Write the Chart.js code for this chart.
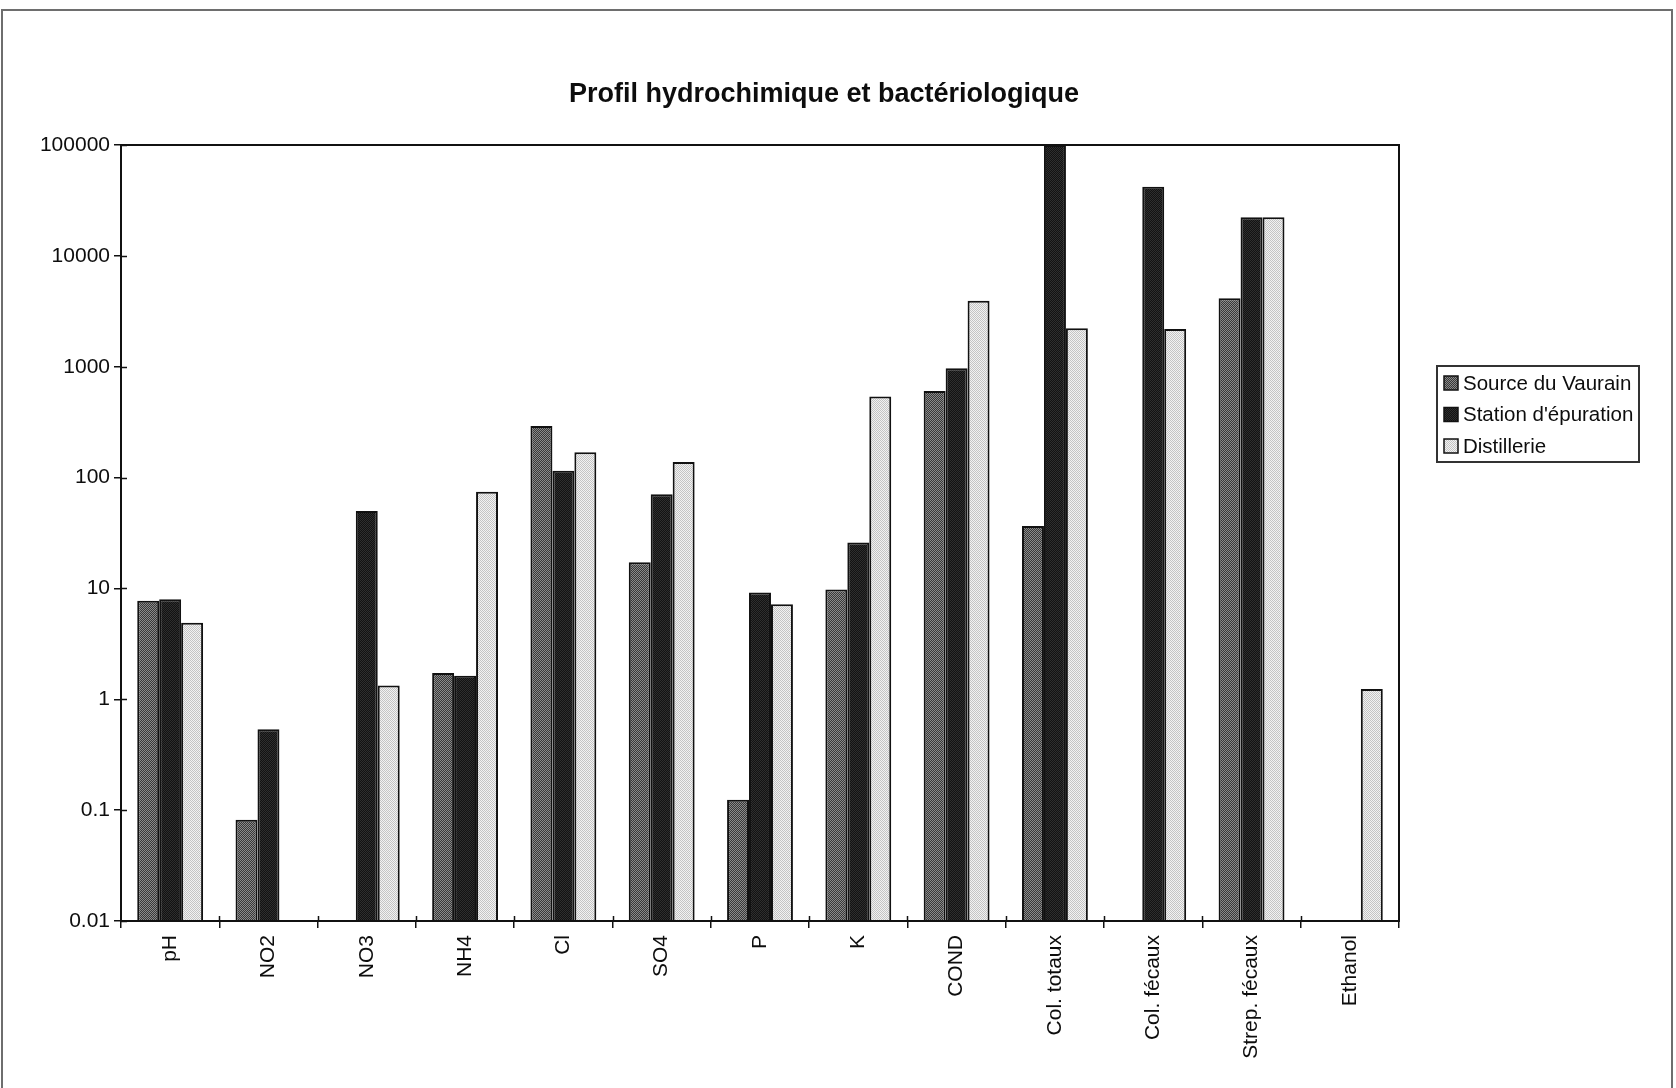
<!DOCTYPE html>
<html>
<head>
<meta charset="utf-8">
<title>Profil hydrochimique et bactériologique</title>
<script src="https://cdn.jsdelivr.net/npm/chart.js@4.4.1/dist/chart.umd.min.js"></script>
<style>
  html, body { margin: 0; padding: 0; background: #fff; }
  #wrap { width: 1676px; height: 1088px; }
  canvas { display: block; }
</style>
</head>
<body>
<div id="wrap"><canvas id="chart" width="1676" height="1088"></canvas></div>
<script>
// Parameters measured at the three sampling sites (log scale)
const categories = ['pH', 'NO2', 'NO3', 'NH4', 'Cl', 'SO4', 'P', 'K', 'COND',
                    'Col. totaux', 'Col. fécaux', 'Strep. fécaux', 'Ethanol'];
const seriesNames = ['Source du Vaurain', "Station d'épuration", 'Distillerie'];
const sourceVaurain    = [7.75, 0.082, null, 1.73, 292, 17.2, 0.124, 9.8, 604, 36.6, null, 4140, null];
const stationEpuration = [7.98, 0.536, 50, 1.63, 115, 70.7, 9.2, 25.9, 968, 100000, 42100, 22300, null];
const distillerie      = [4.9, null, 1.33, 74.6, 169, 138, 7.2, 538, 3940, 2220, 2190, 22300, 1.24];
const yTicks = [0.01, 0.1, 1, 10, 100, 1000, 10000, 100000];
const chartTitle = 'Profil hydrochimique et bactériologique';

const FONT = '"Liberation Sans", Arial, Helvetica, sans-serif';
const INK = '#0d0d0d';

// Small dithered fills, in the spirit of a printed greyscale chart
function makePattern(base, dot, step) {
  const c = document.createElement('canvas');
  c.width = step; c.height = step;
  const g = c.getContext('2d');
  g.fillStyle = base;
  g.fillRect(0, 0, step, step);
  g.fillStyle = dot;
  for (let y = 0; y < step; y++) {
    for (let x = 0; x < step; x++) {
      if ((x + y) % 2 === 0) g.fillRect(x, y, 1, 1);
    }
  }
  return document.createElement('canvas').getContext('2d').createPattern(c, 'repeat');
}
const fills = [
  makePattern('#383838', '#8a8a8a', 4),
  makePattern('#121212', '#2e2e2e', 4),
  makePattern('#f2f2f2', '#c4c4c4', 4)
];
const seriesValues = [sourceVaurain, stationEpuration, distillerie];

// Outer frame, plot frame, inner tick halves, title and boxed legend
const decorations = {
  id: 'decorations',
  beforeDraw(chart) {
    const ctx = chart.ctx;
    ctx.save();
    ctx.fillStyle = '#ffffff';
    ctx.fillRect(0, 0, chart.width, chart.height);
    ctx.strokeStyle = '#6e6e6e';
    ctx.lineWidth = 2;
    ctx.strokeRect(2, 10, 1670, 1100);
    ctx.restore();
  },
  afterDraw(chart) {
    const ctx = chart.ctx;
    const a = chart.chartArea;
    const xs = chart.scales.x, ys = chart.scales.y;
    ctx.save();
    ctx.strokeStyle = '#111';
    ctx.lineWidth = 2;
    ctx.strokeRect(a.left, a.top, a.right - a.left, a.bottom - a.top);

    // tick marks crossing the axes
    ctx.lineWidth = 1.5;
    ctx.beginPath();
    yTicks.forEach(v => {
      const py = Math.round(ys.getPixelForValue(v)) + 0.5;
      ctx.moveTo(a.left, py); ctx.lineTo(a.left + 6, py);
    });
    for (let i = 1; i < categories.length; i++) {
      const px = Math.round((xs.getPixelForValue(i - 1) + xs.getPixelForValue(i)) / 2) + 0.5;
      ctx.moveTo(px, a.bottom); ctx.lineTo(px, a.bottom - 5);
    }
    ctx.stroke();

    // title
    ctx.fillStyle = INK;
    ctx.font = 'bold 27px ' + FONT;
    ctx.textAlign = 'center';
    ctx.textBaseline = 'middle';
    ctx.fillText(chartTitle, 824, 95);

    // legend box
    const lx = 1437, ly = 366, lw = 202, lh = 96;
    ctx.fillStyle = '#fff';
    ctx.fillRect(lx, ly, lw, lh);
    ctx.strokeStyle = '#333';
    ctx.lineWidth = 2;
    ctx.strokeRect(lx, ly, lw, lh);
    ctx.font = '20.5px ' + FONT;
    ctx.textAlign = 'left';
    chart.data.datasets.forEach((ds, i) => {
      const cy = 383 + i * 31.5;
      ctx.fillStyle = ds.backgroundColor;
      ctx.fillRect(1444, cy - 7, 14, 14);
      ctx.strokeStyle = '#111';
      ctx.lineWidth = 1.5;
      ctx.strokeRect(1444, cy - 7, 14, 14);
      ctx.fillStyle = INK;
      ctx.fillText(ds.label, 1463, cy + 1);
    });
    ctx.restore();
  }
};

new Chart(document.getElementById('chart'), {
  type: 'bar',
  data: {
    labels: categories,
    datasets: seriesNames.map((name, i) => ({
      label: name,
      data: seriesValues[i],
      backgroundColor: fills[i],
      borderColor: '#111',
      borderWidth: 2,
      borderSkipped: 'bottom',
      categoryPercentage: 0.67,
      barPercentage: 1.0
    }))
  },
  options: {
    responsive: false,
    animation: false,
    devicePixelRatio: 1,
    layout: { padding: { left: 0, top: 145, right: 277, bottom: 0 } },
    plugins: {
      legend: { display: false },
      title: { display: false },
      tooltip: { enabled: false }
    },
    scales: {
      x: {
        offset: true,
        grid: { display: true, offset: true, drawOnChartArea: false, drawTicks: true,
                tickLength: 7, color: '#111', lineWidth: 1.5 },
        border: { display: true, color: '#111', width: 2 },
        ticks: {
          color: INK, font: { family: FONT, size: 21 },
          minRotation: 90, maxRotation: 90, padding: 7, autoSkip: false
        },
        afterFit(scale) { scale.height = 167; }
      },
      y: {
        type: 'logarithmic',
        min: 0.01,
        max: 100000,
        afterBuildTicks(scale) { scale.ticks = yTicks.map(v => ({ value: v })); },
        grid: { display: true, drawOnChartArea: false, drawTicks: true,
                tickLength: 7, color: '#111', lineWidth: 1.5 },
        border: { display: true, color: '#111', width: 2 },
        ticks: {
          color: INK, font: { family: FONT, size: 21 }, padding: 4,
          callback: v => String(v)
        },
        afterFit(scale) { scale.width = 121; }
      }
    }
  },
  plugins: [decorations]
});
</script>
</body>
</html>
